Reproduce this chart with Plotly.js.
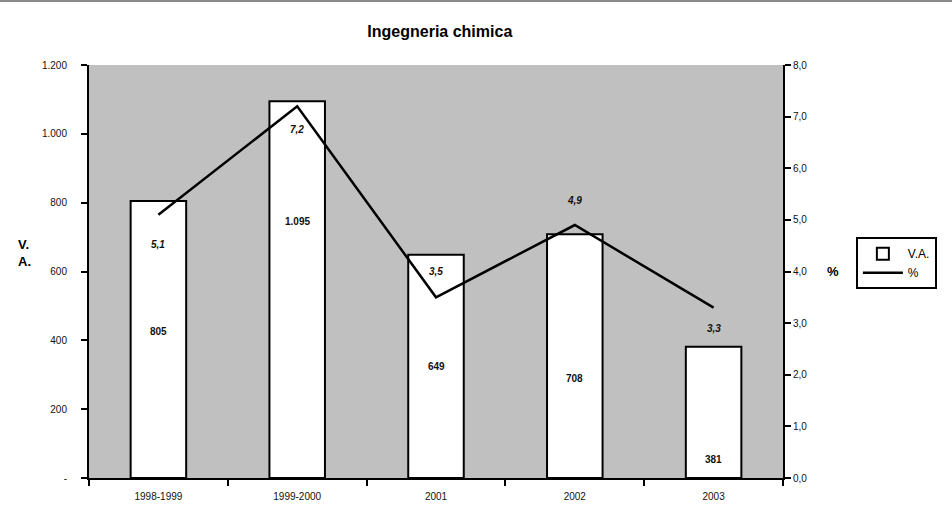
<!DOCTYPE html>
<html>
<head>
<meta charset="utf-8">
<script src="https://cdn.plot.ly/plotly-3.0.1.min.js"></script>
<style>
html,body{margin:0;padding:0;background:#fff;}
body{border-top:2px solid #8a8a8a;box-sizing:border-box;}
#chart{width:952px;height:511px;}
</style>
</head>
<body>
<div id="chart"></div>
<script>
// Data
const categories = ["1998-1999", "1999-2000", "2001", "2002", "2003"];
const vaValues = [805, 1095, 649, 708, 381];
const pctValues = [5.1, 7.2, 3.5, 4.9, 3.3];
const leftTickVals = [0, 200, 400, 600, 800, 1000, 1200];
const leftTickText = ["-", "200", "400", "600", "800", "1.000", "1.200"];
const rightTickVals = [0, 1, 2, 3, 4, 5, 6, 7, 8];
const rightTickText = ["0,0", "1,0", "2,0", "3,0", "4,0", "5,0", "6,0", "7,0", "8,0"];

// Label placement (style only)
const barLabelFrac = [0.53, 0.68, 0.5, 0.41, 0.14];
const pctLabelShift = [-30, -23, 26, 25, -21];

const fmtInt = v => v >= 1000 ? Math.floor(v/1000) + "." + String(v % 1000).padStart(3, "0") : String(v);
const fmtPct = v => v.toFixed(1).replace(".", ",");

const font = "Liberation Sans, Arial, sans-serif";

const traces = [
  {
    type: "bar",
    name: "V.A.",
    x: categories,
    y: vaValues,
    width: 0.4,
    marker: {color: "#ffffff", line: {color: "#000000", width: 2}},
    hoverinfo: "x+y"
  },
  {
    type: "scatter",
    mode: "lines",
    name: "%",
    x: categories,
    y: pctValues,
    yaxis: "y2",
    line: {color: "#000000", width: 2.5}
  }
];

const annotations = [];
categories.forEach((c, i) => {
  annotations.push({
    x: i, y: vaValues[i] * barLabelFrac[i], xref: "x", yref: "y",
    text: "<b>" + fmtInt(vaValues[i]) + "</b>", showarrow: false,
    font: {family: font, size: 10, color: "#111"}
  });
  annotations.push({
    x: i, y: pctValues[i], xref: "x", yref: "y2", yshift: pctLabelShift[i],
    text: "<b><i>" + fmtPct(pctValues[i]) + "</i></b>", showarrow: false,
    font: {family: font, size: 10, color: "#111"}
  });
});
annotations.push({
  xref: "paper", yref: "paper", x: -0.105, y: 0.545, xanchor: "left", yanchor: "middle",
  text: "<b>V.</b><br><b>A.</b>", showarrow: false, align: "left",
  font: {family: font, size: 13, color: "#000"}
});
annotations.push({
  xref: "paper", yref: "paper", x: 1.06, y: 0.5, xanchor: "left", yanchor: "middle",
  text: "<b>%</b>", showarrow: false,
  font: {family: font, size: 13, color: "#000"}
});

const layout = {
  width: 952, height: 511,
  margin: {l: 89, r: 169, t: 63, b: 35},
  paper_bgcolor: "#ffffff",
  plot_bgcolor: "#c0c0c0",
  showlegend: true,
  title: {
    text: "<b>Ingegneria chimica</b>",
    font: {family: font, size: 16, color: "#000"},
    x: 0.462, xanchor: "center", y: 0.943, yanchor: "middle"
  },
  bargap: 0.6,
  xaxis: {
    type: "category",
    categoryorder: "array", categoryarray: categories,
    range: [-0.5, categories.length - 0.5],
    tickson: "boundaries",
    ticks: "outside", ticklen: 6, tickwidth: 2, tickcolor: "#000",
    showline: true, linecolor: "#000", linewidth: 2,
    showgrid: false, zeroline: false, tickangle: 0,
    tickfont: {family: font, size: 10, color: "#111"},
    ticklabelstandoff: 8,
    automargin: false
  },
  yaxis: {
    range: [0, 1200],
    tickvals: leftTickVals, ticktext: leftTickText,
    ticks: "outside", ticklen: 6, tickwidth: 2, tickcolor: "#000",
    showline: true, linecolor: "#000", linewidth: 2, mirror: false,
    showgrid: false, zeroline: false,
    tickfont: {family: font, size: 10, color: "#111"},
    ticklabelstandoff: 12,
    automargin: false
  },
  yaxis2: {
    overlaying: "y", side: "right",
    range: [0, 8],
    tickvals: rightTickVals, ticktext: rightTickText,
    ticks: "outside", ticklen: 6, tickwidth: 2, tickcolor: "#000",
    showline: true, linecolor: "#000", linewidth: 2,
    showgrid: false, zeroline: false,
    tickfont: {family: font, size: 10, color: "#111"},
    automargin: false
  },
  legend: {
    x: 1.105, xanchor: "left", y: 0.52, yanchor: "middle",
    bgcolor: "#ffffff", bordercolor: "#000", borderwidth: 2,
    font: {family: font, size: 12, color: "#000"},
    tracegroupgap: 0, itemwidth: 40
  },
  annotations: annotations
};

Plotly.newPlot("chart", traces, layout, {displayModeBar: false, staticPlot: true});
</script>
</body>
</html>
